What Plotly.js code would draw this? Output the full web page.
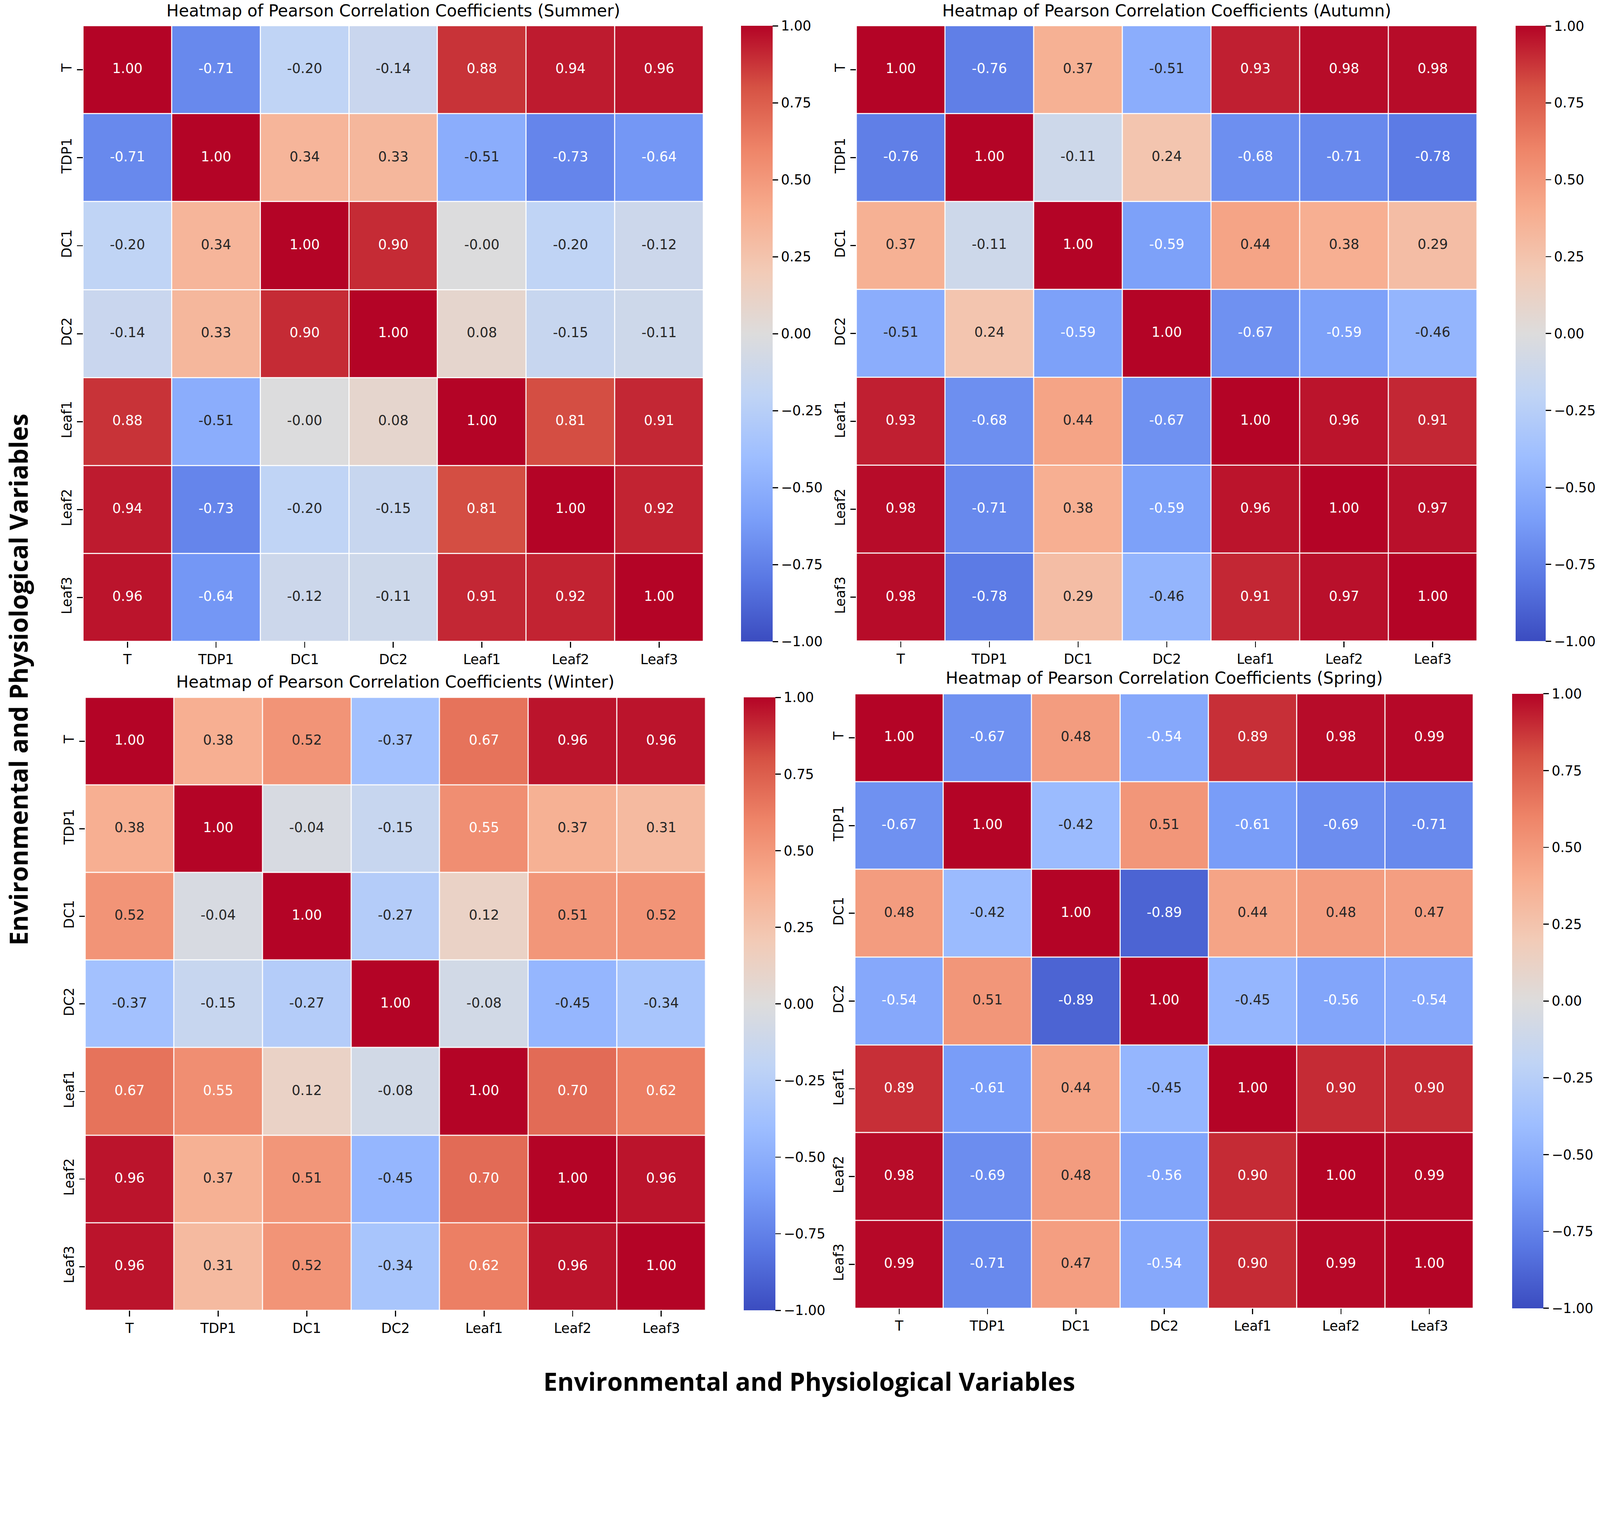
<!DOCTYPE html>
<html><head><meta charset="utf-8">
<script src="https://cdn.plot.ly/plotly-3.0.1.min.js"></script>
<style>html,body{margin:0;padding:0;background:#fff;overflow:hidden}#chart{position:absolute;left:0;top:0}</style>
</head><body><div id="chart"></div>
<script>
// ---- data ----
const variables = ['T','TDP1','DC1','DC2','Leaf1','Leaf2','Leaf3'];
const colorbarTicks = [-1, -0.75, -0.5, -0.25, 0, 0.25, 0.5, 0.75, 1];

const summer = [
  [ 1.00, -0.71, -0.20, -0.14,  0.88,  0.94,  0.96],
  [-0.71,  1.00,  0.34,  0.33, -0.51, -0.73, -0.64],
  [-0.20,  0.34,  1.00,  0.90, -0.004, -0.20, -0.12],
  [-0.14,  0.33,  0.90,  1.00,  0.08, -0.15, -0.11],
  [ 0.88, -0.51, -0.004, 0.08,  1.00,  0.81,  0.91],
  [ 0.94, -0.73, -0.20, -0.15,  0.81,  1.00,  0.92],
  [ 0.96, -0.64, -0.12, -0.11,  0.91,  0.92,  1.00]
];
const autumn = [
  [ 1.00, -0.76,  0.37, -0.51,  0.93,  0.98,  0.98],
  [-0.76,  1.00, -0.11,  0.24, -0.68, -0.71, -0.78],
  [ 0.37, -0.11,  1.00, -0.59,  0.44,  0.38,  0.29],
  [-0.51,  0.24, -0.59,  1.00, -0.67, -0.59, -0.46],
  [ 0.93, -0.68,  0.44, -0.67,  1.00,  0.96,  0.91],
  [ 0.98, -0.71,  0.38, -0.59,  0.96,  1.00,  0.97],
  [ 0.98, -0.78,  0.29, -0.46,  0.91,  0.97,  1.00]
];
const winter = [
  [ 1.00,  0.38,  0.52, -0.37,  0.67,  0.96,  0.96],
  [ 0.38,  1.00, -0.04, -0.15,  0.55,  0.37,  0.31],
  [ 0.52, -0.04,  1.00, -0.27,  0.12,  0.51,  0.52],
  [-0.37, -0.15, -0.27,  1.00, -0.08, -0.45, -0.34],
  [ 0.67,  0.55,  0.12, -0.08,  1.00,  0.70,  0.62],
  [ 0.96,  0.37,  0.51, -0.45,  0.70,  1.00,  0.96],
  [ 0.96,  0.31,  0.52, -0.34,  0.62,  0.96,  1.00]
];
const spring = [
  [ 1.00, -0.67,  0.48, -0.54,  0.89,  0.98,  0.99],
  [-0.67,  1.00, -0.42,  0.51, -0.61, -0.69, -0.71],
  [ 0.48, -0.42,  1.00, -0.89,  0.44,  0.48,  0.47],
  [-0.54,  0.51, -0.89,  1.00, -0.45, -0.56, -0.54],
  [ 0.89, -0.61,  0.44, -0.45,  1.00,  0.90,  0.90],
  [ 0.98, -0.69,  0.48, -0.56,  0.90,  1.00,  0.99],
  [ 0.99, -0.71,  0.47, -0.54,  0.90,  0.99,  1.00]
];

// ---- style ----
const REF_W = 4465, REF_H = 3901;
const vw = window.innerWidth || REF_W, vh = window.innerHeight || REF_H;
const s = Math.min(vw / REF_W, vh / REF_H);
const W = Math.round(REF_W * s), H = Math.round(REF_H * s);
const px = v => v * s;
const fx = p => p / REF_W;
const fy = p => 1 - p / REF_H;
const FONT = 'DejaVu Sans';
const chartDiv = document.getElementById('chart');
chartDiv.style.width = W + 'px';
chartDiv.style.height = H + 'px';

const coolwarm = [
  [0.0,'#3b4cc0'],[0.1,'#5977e3'],[0.2,'#7b9ff9'],[0.3,'#9ebeff'],[0.4,'#c0d4f5'],
  [0.5,'#dddcdc'],[0.6,'#f2cbb7'],[0.7,'#f7ac8e'],[0.8,'#ee8468'],[0.9,'#d65244'],[1.0,'#b40426']
];
function hex(h){return [parseInt(h.slice(1,3),16),parseInt(h.slice(3,5),16),parseInt(h.slice(5,7),16)];}
function colorAt(v){
  const t = Math.max(0, Math.min(1, (v + 1) / 2));
  for (let i = 0; i < coolwarm.length - 1; i++){
    const [t0,c0] = coolwarm[i], [t1,c1] = coolwarm[i+1];
    if (t <= t1){
      const f = (t - t0) / (t1 - t0), a = hex(c0), b = hex(c1);
      return a.map((x,k)=> x + f*(b[k]-x));
    }
  }
  return hex(coolwarm[coolwarm.length-1][1]);
}
function textColor(v){
  const lin = colorAt(v).map(c => { c/=255; return c <= 0.03928 ? c/12.92 : Math.pow((c+0.055)/1.055, 2.4); });
  const lum = 0.2126*lin[0] + 0.7152*lin[1] + 0.0722*lin[2];
  return lum > 0.408 ? '#262626' : '#ffffff';
}

const panels = [
  {name:'Summer', z: summer, box:[232,1963,72,1790],   cbar:[2068,2156], ty:30},
  {name:'Autumn', z: autumn, box:[2390,4122,72,1789],  cbar:[4230,4314], ty:30},
  {name:'Winter', z: winter, box:[238,1969,1946,3656], cbar:[2075,2163], ty:1902},
  {name:'Spring', z: spring, box:[2386,4112,1936,3650],cbar:[4220,4307], ty:1892}
];

const traces = [];
const layout = {
  width: W, height: H,
  margin: {l:0, r:0, t:0, b:0},
  paper_bgcolor: '#ffffff', plot_bgcolor: '#ffffff',
  showlegend: false,
  font: {family: FONT, size: px(38), color: '#000000'},
  annotations: []
};

panels.forEach((p, i) => {
  const n = i + 1;
  const xa = 'x' + (n === 1 ? '' : n), ya = 'y' + (n === 1 ? '' : n);
  const [x0, x1, y0, y1] = p.box;
  traces.push({
    type: 'heatmap', x: variables, y: variables, z: p.z,
    xaxis: xa, yaxis: ya,
    zmin: -1, zmax: 1, colorscale: coolwarm,
    xgap: px(3), ygap: px(3), hoverinfo: 'skip',
    colorbar: {
      x: fx(p.cbar[0]), xanchor: 'left', xpad: 0, ypad: 0,
      thickness: px(p.cbar[1] - p.cbar[0]), thicknessmode: 'pixels',
      len: (y1 - y0) / REF_H, lenmode: 'fraction',
      y: fy(y1), yanchor: 'bottom',
      outlinewidth: 0,
      tickmode: 'array', tickvals: colorbarTicks, tickformat: '.2f',
      tickprefix: '\u00a0',
      ticks: 'outside', ticklen: px(16), tickwidth: px(3), tickcolor: '#000',
      tickfont: {family: FONT, size: px(38), color: '#000'}
    }
  });
  const tx = [], ty = [], tt = [], tc = [];
  p.z.forEach((row, r) => row.forEach((v, c) => {
    tx.push(variables[c]); ty.push(variables[r]);
    tt.push(v.toFixed(2)); tc.push(textColor(v));
  }));
  traces.push({
    type: 'scatter', mode: 'text', x: tx, y: ty, text: tt,
    xaxis: xa, yaxis: ya, hoverinfo: 'skip', cliponaxis: false,
    textfont: {family: FONT, size: px(38), color: tc}
  });
  const axCommon = {
    type: 'category', categoryorder: 'array', categoryarray: variables,
    showgrid: false, zeroline: false, showline: false,
    ticks: 'outside', ticklen: px(16), tickwidth: px(3), tickcolor: '#000',
    tickfont: {family: FONT, size: px(38), color: '#000'}, fixedrange: true
  };
  layout['xaxis' + (n === 1 ? '' : n)] = Object.assign({}, axCommon, {
    domain: [fx(x0), fx(x1)], anchor: ya, tickangle: 0, ticklabelstandoff: -px(14)
  });
  layout['yaxis' + (n === 1 ? '' : n)] = Object.assign({}, axCommon, {
    domain: [fy(y1), fy(y0)], anchor: xa, autorange: 'reversed', tickangle: -90,
    ticklabelstandoff: px(6)
  });
  layout.annotations.push({
    text: 'Heatmap of Pearson Correlation Coefficients (' + p.name + ')',
    xref: 'paper', yref: 'paper', x: fx((x0 + x1) / 2), y: fy(p.ty),
    xanchor: 'center', yanchor: 'middle', showarrow: false,
    font: {family: FONT, size: px(46), color: '#000'}
  });
});

layout.annotations.push({
  text: '<b>Environmental and Physiological Variables</b>',
  xref: 'paper', yref: 'paper', x: fx(2258), y: fy(3853),
  xanchor: 'center', yanchor: 'middle', showarrow: false,
  font: {family: 'Open Sans', size: px(70), color: '#000'}
});
layout.annotations.push({
  text: '<b>Environmental and Physiological Variables</b>',
  xref: 'paper', yref: 'paper', x: fx(2), y: fy(1896),
  xanchor: 'left', yanchor: 'middle', showarrow: false, textangle: -90,
  borderpad: 0,
  font: {family: 'Open Sans', size: px(70), color: '#000'}
});

Plotly.newPlot('chart', traces, layout, {staticPlot: true, displayModeBar: false});
</script>
</body></html>
